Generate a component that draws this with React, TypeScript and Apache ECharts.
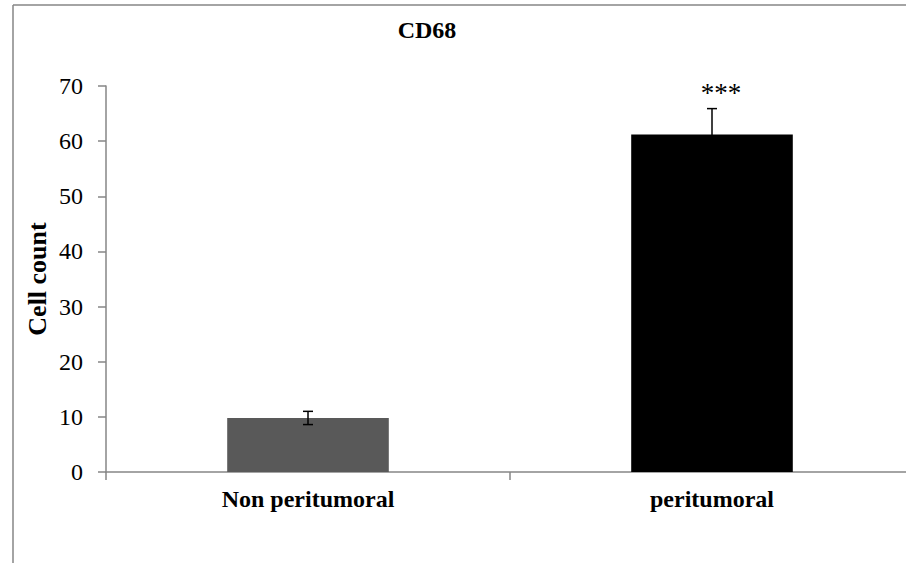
import React, { useEffect, useRef } from "react";
import * as echarts from "echarts";

const categories = ["Non peritumoral", "peritumoral"];
const means = [9.8, 61.2];
const errors = [1.2, 4.7];
const significance = ["", "***"];
const barColors = ["#595959", "#000000"];
const yTicks = { min: 0, max: 70, interval: 10 };

const FONT = "'Liberation Serif', 'Times New Roman', serif";
const AXIS = "#868686";

export default function App() {
  const ref = useRef<HTMLDivElement>(null);
  useEffect(() => {
    if (!ref.current) return;
    const chart = echarts.init(ref.current, null, { renderer: "svg" });
    chart.setOption({
      animation: false,
      backgroundColor: "#ffffff",
      title: {
        text: "CD68",
        left: 422,
        top: 13,
        textAlign: "center",
        textStyle: { fontFamily: FONT, fontWeight: "bold", fontSize: 24, color: "#000" },
      },
      graphic: [
        { type: "line", shape: { x1: 13, y1: 5, x2: 906, y2: 5 }, style: { stroke: AXIS, lineWidth: 1.5 } },
        { type: "line", shape: { x1: 13, y1: 5, x2: 13, y2: 563 }, style: { stroke: AXIS, lineWidth: 1.5 } },
      ],
      grid: {
        left: 106,
        top: 86,
        height: 386,
        width: 808,
        containLabel: false,
        outerBoundsMode: "none",
      },
      xAxis: {
        type: "category",
        data: categories,
        axisLine: { lineStyle: { color: AXIS, width: 1.5 } },
        axisTick: { show: true, length: 8, lineStyle: { color: AXIS, width: 1.5 } },
        axisLabel: { margin: 15, fontFamily: FONT, fontWeight: "bold", fontSize: 24, color: "#000" },
      },
      yAxis: {
        type: "value",
        min: yTicks.min,
        max: yTicks.max,
        interval: yTicks.interval,
        name: "Cell count",
        nameLocation: "middle",
        nameGap: 56,
        nameMoveOverlap: false,
        nameTextStyle: { fontFamily: FONT, fontWeight: "bold", fontSize: 26, color: "#000" },
        axisLine: { show: true, lineStyle: { color: AXIS, width: 1.5 } },
        axisTick: { show: true, length: 8, lineStyle: { color: AXIS, width: 1.5 } },
        splitLine: { show: false },
        axisLabel: { margin: 23, fontFamily: FONT, fontSize: 24, color: "#000" },
      },
      series: [
        {
          type: "bar",
          barWidth: "40%",
          data: means.map((v, i) => ({ value: v, itemStyle: { color: barColors[i] } })),
        },
        {
          type: "custom",
          data: means.map((v, i) => [i, v, errors[i]]),
          renderItem: (params: any, api: any) => {
            const i = api.value(0);
            const m = api.value(1);
            const e = api.value(2);
            const star = significance[params.dataIndex];
            const top = api.coord([i, m + e]);
            const bot = api.coord([i, m - e]);
            const x = top[0];
            const hw = 5;
            const children: any[] = [
              { type: "line", shape: { x1: x, y1: top[1], x2: x, y2: bot[1] }, style: { stroke: "#000", lineWidth: 1.5 } },
              { type: "line", shape: { x1: x - hw, y1: top[1], x2: x + hw, y2: top[1] }, style: { stroke: "#000", lineWidth: 1.5 } },
              { type: "line", shape: { x1: x - hw, y1: bot[1], x2: x + hw, y2: bot[1] }, style: { stroke: "#000", lineWidth: 1.5 } },
            ];
            if (star) {
              children.push({
                type: "text",
                x: x + 9,
                y: top[1] - 2,
                style: {
                  text: star,
                  fontFamily: FONT,
                  fontSize: 27,
                  fill: "#000",
                  align: "center",
                  verticalAlign: "bottom",
                },
              });
            }
            return { type: "group", children };
          },
          z: 5,
        },
      ],
    });
    return () => chart.dispose();
  }, []);
  return <div ref={ref} style={{ position: "fixed", left: 0, top: 0, width: 906, height: 563 }} />;
}
